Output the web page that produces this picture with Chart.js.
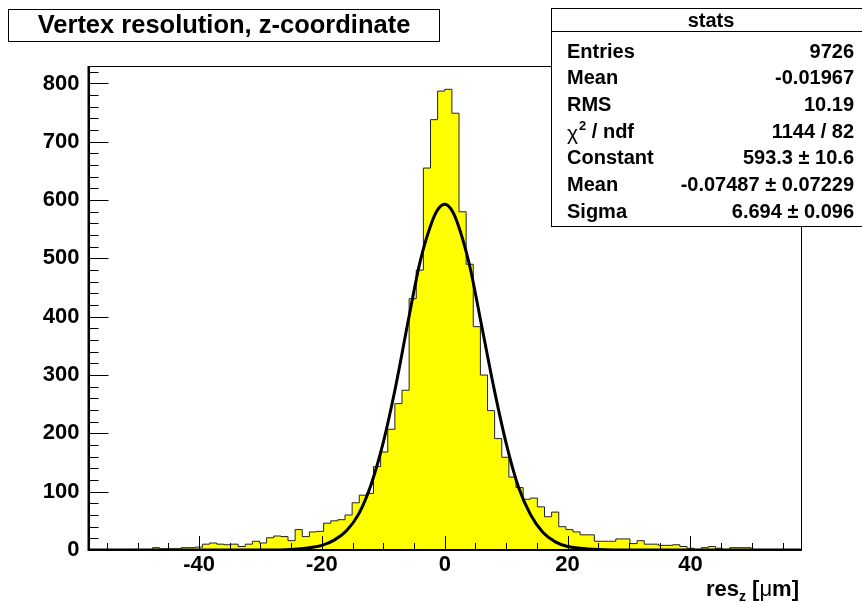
<!DOCTYPE html>
<html>
<head>
<meta charset="utf-8">
<script src="https://cdn.jsdelivr.net/npm/chart.js@4.4.1/dist/chart.umd.min.js"></script>
<style>
  html, body { margin: 0; padding: 0; background: #fff; }
  #wrap { width: 862px; height: 603px; position: relative; }
</style>
</head>
<body>
<div id="wrap"><canvas id="c" width="862" height="603"></canvas></div>
<script>
// histogram range and bin contents (100 bins)
var binLow = -58;
var binHigh = 58;
var binCounts = [
  0, 0, 0, 0, 0, 0, 1, 0, 0, 4,
  2, 2, 2, 4, 4, 5, 10, 12, 10, 9,
  10, 6, 10, 15, 12, 21, 24, 23, 16, 35,
  23, 31, 32, 46, 50, 52, 60, 81, 94, 97,
  143, 168, 207, 251, 274, 431, 480, 655, 738, 787,
  790, 749, 580, 490, 383, 300, 239, 191, 159, 125,
  107, 87, 89, 74, 57, 65, 40, 35, 31, 26,
  26, 15, 15, 15, 19, 19, 11, 16, 10, 10,
  8, 8, 9, 6, 3, 1, 4, 6, 3, 0,
  4, 4, 4, 0, 0, 0, 0, 0, 0, 0
];

// gaussian fit curve
var fitX = [-58, -30, -25, -22, -20, -18, -16, -14, -12, -10, -8, -6, -4, -2, -1, 0, 1, 2, 4, 6, 8, 10, 12, 14, 16, 18, 20, 22, 25, 30, 58];
var fitY = [0, 0, 1, 4, 8, 17, 33, 62, 112, 185, 280, 390, 495, 565, 586, 593, 585, 563, 490, 385, 278, 183, 108, 60, 30, 14, 6, 3, 1, 0, 0];

var xTicks = [-40, -20, 0, 20, 40];
var yTicks = [0, 100, 200, 300, 400, 500, 600, 700, 800];
var yMax = 830;

var titleText = "Vertex resolution, z-coordinate";
var statsLabels = ["Entries", "Mean", "RMS", "chi2", "Constant", "Mean", "Sigma"];
var statsValues = ["9726", "-0.01967", "10.19", "1144 / 82", "593.3 \u00b1 10.6", "-0.07487 \u00b1 0.07229", "6.694 \u00b1 0.096"];

var FONT = '"Liberation Sans", Arial, Helvetica, sans-serif';

// build step points from bin edges
var binWidth = (binHigh - binLow) / binCounts.length;
var histPts = [];
for (var i = 0; i < binCounts.length; i++) {
  histPts.push({ x: binLow + i * binWidth, y: binCounts[i] });
}
histPts.push({ x: binHigh, y: binCounts[binCounts.length - 1] });

var fitPts = fitX.map(function(x, k) { return { x: x, y: fitY[k] }; });

function drawParts(ctx, parts, xRight, baseY) {
  var total = 0;
  parts.forEach(function(p) { ctx.font = p.f; p.w = ctx.measureText(p.t).width; total += p.w; });
  var x = xRight - total;
  ctx.textAlign = "left";
  ctx.textBaseline = "alphabetic";
  parts.forEach(function(p) { ctx.font = p.f; ctx.fillText(p.t, x, baseY + (p.dy || 0)); x += p.w; });
}

var rootDecor = {
  id: "rootDecor",
  afterDraw: function(chart) {
    var ctx = chart.ctx, ca = chart.chartArea;
    var xs = chart.scales.x, ys = chart.scales.y;
    ctx.save();
    ctx.strokeStyle = "#000";
    ctx.fillStyle = "#000";
    ctx.lineWidth = 1;

    // frame
    ctx.strokeRect(Math.round(ca.left) + 0.5, Math.round(ca.top) + 0.5,
      Math.round(ca.right - ca.left) - 1, Math.round(ca.bottom - ca.top));
    ctx.lineWidth = 2;
    ctx.beginPath();
    ctx.moveTo(ca.left, ca.top); ctx.lineTo(ca.left, ca.bottom); ctx.lineTo(ca.right, ca.bottom);
    ctx.stroke();

    // ticks inside the frame
    ctx.lineWidth = 1;
    ctx.beginPath();
    for (var v = -55; v <= 55; v += 5) {
      var px = Math.round(xs.getPixelForValue(v)) + 0.5;
      var len = (v % 20 === 0) ? 14 : 7;
      ctx.moveTo(px, ca.bottom); ctx.lineTo(px, ca.bottom - len);
    }
    for (var w = 20; w <= 820; w += 20) {
      var py = Math.round(ys.getPixelForValue(w)) + 0.5;
      var l2 = (w % 100 === 0) ? 20 : 10;
      ctx.moveTo(ca.left, py); ctx.lineTo(ca.left + l2, py);
    }
    ctx.stroke();

    // x axis title
    drawParts(ctx, [
      { t: "res", f: "bold 22px " + FONT },
      { t: "z", f: "bold 14px " + FONT, dy: 5 },
      { t: " [", f: "bold 22px " + FONT },
      { t: "\u03bc", f: "22px " + FONT },
      { t: "m]", f: "bold 22px " + FONT }
    ], 799, 596);

    // title box
    ctx.fillStyle = "#fff";
    ctx.fillRect(8.5, 9.5, 431, 32);
    ctx.strokeRect(8.5, 9.5, 431, 32);
    ctx.fillStyle = "#000";
    ctx.font = "bold 25.5px " + FONT;
    ctx.textAlign = "center";
    ctx.textBaseline = "middle";
    ctx.fillText(titleText, 224, 26);

    // stats box
    var bx = 551.5, by = 8.5, bw = 320, bh = 218;
    ctx.fillStyle = "#fff";
    ctx.fillRect(bx, by, bw, bh);
    ctx.strokeRect(bx, by, bw, bh);
    ctx.beginPath();
    ctx.moveTo(bx, 31.5); ctx.lineTo(bx + bw, 31.5);
    ctx.stroke();
    ctx.fillStyle = "#000";
    ctx.font = "bold 20px " + FONT;
    ctx.textAlign = "center";
    ctx.textBaseline = "middle";
    ctx.fillText("stats", 711, 21);
    for (var r = 0; r < statsLabels.length; r++) {
      var ry = 52 + r * 26.7;
      ctx.textBaseline = "middle";
      if (statsLabels[r] === "chi2") {
        ctx.textAlign = "left";
        ctx.font = "21px " + FONT;
        ctx.fillText("\u03c7", 567, ry + 2);
        var cw = ctx.measureText("\u03c7").width;
        ctx.font = "bold 13px " + FONT;
        ctx.fillText("2", 567 + cw + 1, ry - 6);
        var dw = ctx.measureText("2").width;
        ctx.font = "bold 20px " + FONT;
        ctx.fillText(" / ndf", 567 + cw + dw + 1, ry);
      } else {
        ctx.textAlign = "left";
        ctx.font = "bold 20px " + FONT;
        ctx.fillText(statsLabels[r], 567, ry);
      }
      ctx.textAlign = "right";
      ctx.font = "bold 20px " + FONT;
      ctx.fillText(statsValues[r], 854, ry);
    }
    ctx.restore();
  }
};

new Chart(document.getElementById("c"), {
  type: "line",
  data: {
    datasets: [
      {
        label: "fit",
        data: fitPts,
        order: 0,
        borderColor: "#000",
        borderWidth: 3,
        pointRadius: 0,
        fill: false,
        cubicInterpolationMode: "monotone"
      },
      {
        label: "hist",
        data: histPts,
        order: 1,
        stepped: true,
        borderColor: "#222",
        borderWidth: 1,
        backgroundColor: "#ffff00",
        pointRadius: 0,
        fill: "origin"
      }
    ]
  },
  options: {
    responsive: false,
    animation: false,
    devicePixelRatio: 1,
    layout: { padding: { top: 66, right: 61, left: 0, bottom: 0 } },
    plugins: { legend: { display: false }, tooltip: { enabled: false } },
    scales: {
      x: {
        type: "linear",
        min: binLow,
        max: binHigh,
        afterBuildTicks: function(s) { s.ticks = xTicks.map(function(v) { return { value: v }; }); },
        afterFit: function(s) { s.height = 53; },
        grid: { display: false },
        border: { display: false },
        ticks: { color: "#000", padding: -6, maxRotation: 0, autoSkip: false, font: { family: FONT, size: 22, weight: "bold" } }
      },
      y: {
        type: "linear",
        min: 0,
        max: yMax,
        afterBuildTicks: function(s) { s.ticks = yTicks.map(function(v) { return { value: v }; }); },
        afterFit: function(s) { s.width = 88.5; },
        grid: { display: false },
        border: { display: false },
        ticks: { color: "#000", padding: 1, autoSkip: false, font: { family: FONT, size: 22, weight: "bold" } }
      }
    }
  },
  plugins: [rootDecor]
});
</script>
</body>
</html>
